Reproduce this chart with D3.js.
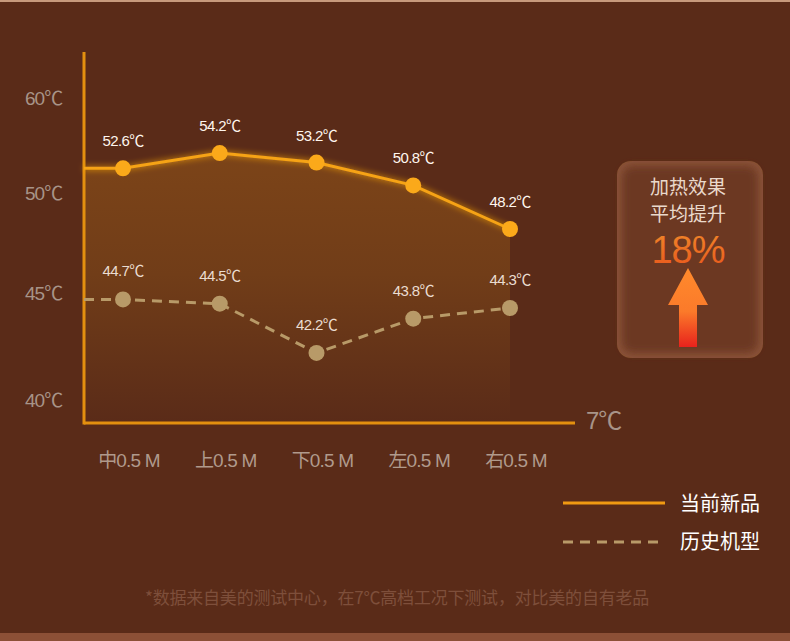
<!DOCTYPE html>
<html>
<head>
<meta charset="utf-8">
<script src="https://cdn.jsdelivr.net/npm/d3@7"></script>
<style>
  body { margin: 0; background: #5a2b18; }
  svg { display: block; font-family: "Liberation Sans", "Noto Sans CJK SC", sans-serif; }
</style>
</head>
<body>
<div id="wrapper"></div>
<script>
// Data
const categories = ['中0.5M', '上0.5M', '下0.5M', '左0.5M', '右0.5M']
const newProduct = [52.6, 54.2, 53.2, 50.8, 48.2]
const oldProduct = [44.7, 44.5, 42.2, 43.8, 44.3]
const yTicks = [40, 45, 50, 60]
const seriesNames = ['当前新品', '历史机型']

function drawChart() {
  const width = 790
  const height = 641

  const svg = d3.select('#wrapper').append('svg')
    .attr('width', width)
    .attr('height', height)

  // background + top / bottom bands
  svg.append('rect').attr('width', width).attr('height', height).attr('fill', '#5a2b18')
  svg.append('rect').attr('width', width).attr('height', 2).attr('fill', '#c79a7c')
  svg.append('rect').attr('y', 633).attr('width', width).attr('height', 8).attr('fill', '#8c5036')

  const defs = svg.append('defs')

  const areaGrad = defs.append('linearGradient')
    .attr('id', 'area-grad').attr('x1', 0).attr('y1', 0).attr('x2', 0).attr('y2', 1)
  areaGrad.append('stop').attr('offset', '0%').attr('stop-color', '#7c4418')
  areaGrad.append('stop').attr('offset', '45%').attr('stop-color', '#713d18')
  areaGrad.append('stop').attr('offset', '100%').attr('stop-color', '#5a2b18')

  const glow = defs.append('filter').attr('id', 'glow')
    .attr('x', '-20%').attr('y', '-50%').attr('width', '140%').attr('height', '200%')
  glow.append('feGaussianBlur').attr('stdDeviation', 3).attr('result', 'b')
  const merge = glow.append('feMerge')
  merge.append('feMergeNode').attr('in', 'b')
  merge.append('feMergeNode').attr('in', 'SourceGraphic')

  // scales: the original axis is not evenly spaced, so use a piecewise scale
  const x = d3.scalePoint().domain(categories).range([123, 510])
  const y = d3.scaleLinear().domain([40, 45, 50, 60]).range([400, 293, 193, 98])

  const axisX0 = 84
  const axisY0 = 423

  // lines start at the y axis at the first value's height
  const newPts = [[axisX0, y(newProduct[0])]].concat(newProduct.map((d, i) => [x(categories[i]), y(d)]))
  const oldPts = [[axisX0, y(oldProduct[0])]].concat(oldProduct.map((d, i) => [x(categories[i]), y(d)]))

  // area under new product
  const area = d3.area().x(d => d[0]).y0(axisY0).y1(d => d[1])
  svg.append('path').attr('d', area(newPts)).attr('fill', 'url(#area-grad)')

  // axes
  svg.append('line').attr('x1', axisX0).attr('x2', axisX0).attr('y1', 52).attr('y2', axisY0 + 1.5)
    .attr('stroke', '#e3900f').attr('stroke-width', 3)
  svg.append('line').attr('x1', axisX0).attr('x2', 575).attr('y1', axisY0).attr('y2', axisY0)
    .attr('stroke', '#e3900f').attr('stroke-width', 3)

  svg.append('text').attr('x', 586).attr('y', 429).attr('fill', '#a89488')
    .attr('font-size', 24).attr('letter-spacing', -1).text('7℃')

  svg.selectAll('.ytick').data(yTicks).join('text')
    .attr('class', 'ytick')
    .attr('x', 25).attr('y', d => y(d) + 7)
    .attr('fill', '#a89488').attr('font-size', 19).attr('letter-spacing', -1)
    .text(d => `${d}℃`)

  svg.selectAll('.xtick').data(categories).join('text')
    .attr('class', 'xtick')
    .attr('x', d => x(d) + 6)
    .attr('y', 467).attr('text-anchor', 'middle')
    .attr('fill', '#b09a8c').attr('font-size', 19).attr('letter-spacing', -0.8)
    .text(d => d.replace('M', ' M'))

  const line = d3.line()

  // history line
  svg.append('path').attr('d', line(oldPts)).attr('fill', 'none')
    .attr('stroke', '#b89a68').attr('stroke-width', 3).attr('stroke-dasharray', '10,7')
  svg.selectAll('.old-dot').data(oldProduct).join('circle')
    .attr('class', 'old-dot')
    .attr('cx', (d, i) => x(categories[i])).attr('cy', d => y(d)).attr('r', 8)
    .attr('fill', '#b89a68')

  // new line with glow
  svg.append('path').attr('d', line(newPts)).attr('fill', 'none')
    .attr('stroke', '#f6a313').attr('stroke-width', 3).attr('filter', 'url(#glow)')
  svg.selectAll('.new-dot').data(newProduct).join('circle')
    .attr('class', 'new-dot')
    .attr('cx', (d, i) => x(categories[i])).attr('cy', d => y(d)).attr('r', 8)
    .attr('fill', '#fba91a')

  // value labels
  svg.selectAll('.new-lab').data(newProduct).join('text')
    .attr('class', 'new-lab')
    .attr('x', (d, i) => x(categories[i])).attr('y', d => y(d) - 22)
    .attr('text-anchor', 'middle').attr('fill', '#fff6ee')
    .attr('font-size', 15).attr('letter-spacing', -0.6)
    .text(d => `${d}℃`)
  svg.selectAll('.old-lab').data(oldProduct).join('text')
    .attr('class', 'old-lab')
    .attr('x', (d, i) => x(categories[i])).attr('y', d => y(d) - 23)
    .attr('text-anchor', 'middle').attr('fill', '#eadcd0')
    .attr('font-size', 15).attr('letter-spacing', -0.6)
    .text(d => `${d}℃`)

  // callout box
  const boxGlow = defs.append('filter').attr('id', 'box-glow')
  boxGlow.append('feGaussianBlur').attr('stdDeviation', 4)
  svg.append('rect').attr('x', 617).attr('y', 161).attr('width', 146).attr('height', 197).attr('rx', 14)
    .attr('fill', '#8a5238')
  svg.append('rect').attr('x', 622).attr('y', 166).attr('width', 136).attr('height', 187).attr('rx', 11)
    .attr('fill', '#6c3822').attr('filter', 'url(#box-glow)')

  const box = svg.append('g').attr('transform', 'translate(688,0)')
  box.append('text').attr('y', 194).attr('text-anchor', 'middle').attr('fill', '#ead9cc')
    .attr('font-size', 19).attr('font-family', 'Noto Sans CJK SC').text('加热效果')
  box.append('text').attr('y', 221).attr('text-anchor', 'middle').attr('fill', '#ead9cc')
    .attr('font-size', 19).attr('font-family', 'Noto Sans CJK SC').text('平均提升')

  const pctGrad = defs.append('linearGradient').attr('id', 'pct-grad')
    .attr('x1', 0).attr('y1', 0).attr('x2', 0).attr('y2', 1)
  pctGrad.append('stop').attr('offset', '0%').attr('stop-color', '#f0892a')
  pctGrad.append('stop').attr('offset', '100%').attr('stop-color', '#e8551c')
  box.append('text').attr('y', 263).attr('text-anchor', 'middle').attr('fill', 'url(#pct-grad)')
    .attr('font-size', 38).attr('letter-spacing', -1).text('18%')

  const arrowGrad = defs.append('linearGradient').attr('id', 'arrow-grad')
    .attr('x1', 0).attr('y1', 0).attr('x2', 0).attr('y2', 1)
  arrowGrad.append('stop').attr('offset', '0%').attr('stop-color', '#ff8a2c')
  arrowGrad.append('stop').attr('offset', '55%').attr('stop-color', '#fb7a2a')
  arrowGrad.append('stop').attr('offset', '100%').attr('stop-color', '#e8221c')
  box.append('path')
    .attr('d', 'M0,268 L20,305 L9,305 L9,347 L-9,347 L-9,305 L-20,305 Z')
    .attr('fill', 'url(#arrow-grad)')

  // legend
  const legend = svg.append('g')
  legend.append('line').attr('x1', 563).attr('x2', 665).attr('y1', 503).attr('y2', 503)
    .attr('stroke', '#f09a12').attr('stroke-width', 3)
  legend.append('line').attr('x1', 563).attr('x2', 665).attr('y1', 542).attr('y2', 542)
    .attr('stroke', '#b89a68').attr('stroke-width', 3).attr('stroke-dasharray', '10,7')
  legend.selectAll('.leg-lab').data(seriesNames).join('text')
    .attr('class', 'leg-lab')
    .attr('x', 680).attr('y', (d, i) => 511 + i * 38)
    .attr('fill', '#ffffff').attr('font-size', 20).attr('font-family', 'Noto Sans CJK SC')
    .text(d => d)

  // footnote
  svg.append('text').attr('x', 397).attr('y', 604).attr('text-anchor', 'middle')
    .attr('fill', '#7e4f3b').attr('font-size', 17).attr('font-family', 'Noto Sans CJK SC')
    .attr('letter-spacing', -0.2)
    .text('*数据来自美的测试中心，在7℃高档工况下测试，对比美的自有老品')
}
drawChart()
</script>
</body>
</html>
